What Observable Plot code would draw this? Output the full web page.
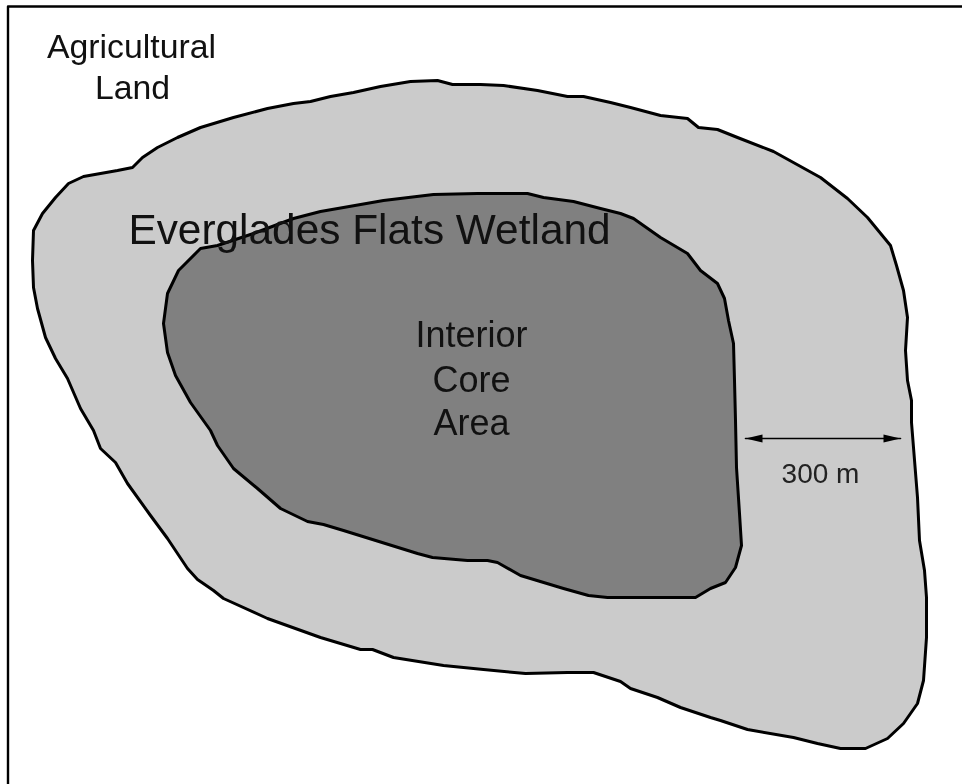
<!DOCTYPE html>
<html>
<head>
<meta charset="utf-8">
<script src="https://cdn.jsdelivr.net/npm/d3@7"></script>
<script src="https://cdn.jsdelivr.net/npm/@observablehq/plot@0.6"></script>
<style>html,body{margin:0;padding:0;background:#fff}svg{display:block;filter:blur(0.4px)}</style>
</head>
<body>
<div id="chart"></div>
<script>
const outerBoundary = [[32,260],[33,230],[42,213],[55,197],[68,183],[83,176],[100,173],[117,170],[132,167],[142,157],[157,147],[177,137],[200,127],[233,117],[267,108],[293,103],[310,101],[330,96],[353,92],[380,86],[410,81],[437,80],[452,84],[480,84],[503,85],[537,90],[567,96],[583,96],[610,102],[630,107],[660,115],[687,118],[698,127],[717,129],[737,137],[773,151],[820,177],[847,198],[867,217],[890,245],[896,265],[903,290],[907,317],[905,350],[907,380],[911,400],[911,422],[913,447],[917,497],[919,540],[924,570],[926,597],[926,637],[923,680],[917,703],[903,723],[887,738],[865,748],[840,748],[817,743],[793,737],[747,729],[720,720],[710,717],[680,707],[657,697],[630,688],[620,681],[593,672],[567,672],[525,673],[483,669],[443,665],[393,657],[372,649],[360,649],[320,637],[267,618],[223,598],[213,590],[197,579],[187,568],[167,538],[150,515],[127,483],[115,462],[100,448],[93,430],[80,408],[67,378],[55,358],[45,337],[37,308],[33,287]];
const interiorCore = [[167,293],[178,270],[200,248],[217,245],[253,233],[293,218],[320,211],[343,207],[383,200],[433,194],[477,193],[527,193],[543,197],[573,201],[600,208],[620,213],[633,218],[660,237],[687,253],[700,270],[717,283],[724,298],[728,320],[733,343],[734,380],[735,420],[736,467],[739,513],[741,545],[735,567],[725,582],[710,588],[695,597],[607,597],[588,595],[563,588],[520,575],[497,562],[487,560],[467,560],[432,557],[417,553],[343,530],[323,524],[307,521],[280,508],[257,488],[233,468],[217,445],[210,430],[190,402],[175,375],[167,352],[163,323]];
const frame = [[7.5,784],[7.5,6],[962,6]];
const measure = [[745,438],[900,438]];
const arrowLeft = [[745,438],[762,434],[762,442]];
const arrowRight = [[900,438],[883,434],[883,442]];
const labels = [
  {t:"Agricultural",x:131,y:57,s:33.8,c:"#111"},
  {t:"Land",x:132,y:98,s:33.8,c:"#111"},
  {t:"Everglades Flats Wetland",x:369,y:243,s:42.4,c:"#111"},
  {t:"Interior",x:471,y:346,s:36,c:"#111"},
  {t:"Core",x:471,y:391,s:36,c:"#111"},
  {t:"Area",x:471,y:434,s:36,c:"#111"},
  {t:"300 m",x:820,y:482,s:28,c:"#222"}
];
const px = d => d[0], py = d => d[1];
const plot = Plot.plot({
  width: 962, height: 784,
  margin: 0,
  style: {background:"#fff", fontFamily:"'Liberation Sans', Arial, sans-serif"},
  x: {domain:[0,962], range:[0,962], axis:null},
  y: {domain:[0,784], range:[0,784], axis:null},
  marks: [
    Plot.line(outerBoundary,{x:px,y:py,curve:"linear-closed",fill:"#cbcbcb",stroke:"#000",strokeWidth:3,strokeLinejoin:"round"}),
    Plot.line(interiorCore,{x:px,y:py,curve:"linear-closed",fill:"#808080",stroke:"#000",strokeWidth:3,strokeLinejoin:"round"}),
    Plot.line(frame,{x:px,y:py,stroke:"#000",strokeWidth:2.4,curve:"linear"}),
    Plot.line(measure,{x:px,y:py,stroke:"#000",strokeWidth:1.6}),
    Plot.line(arrowLeft,{x:px,y:py,fill:"#000",stroke:"none",curve:"linear-closed"}),
    Plot.line(arrowRight,{x:px,y:py,fill:"#000",stroke:"none",curve:"linear-closed"}),
    ...labels.map(l => Plot.text([l],{x:"x",y:"y",text:"t",fontSize:l.s,fill:l.c,textAnchor:"middle",lineAnchor:"bottom"}))
  ]
});
document.getElementById("chart").append(plot);
</script>
</body>
</html>
